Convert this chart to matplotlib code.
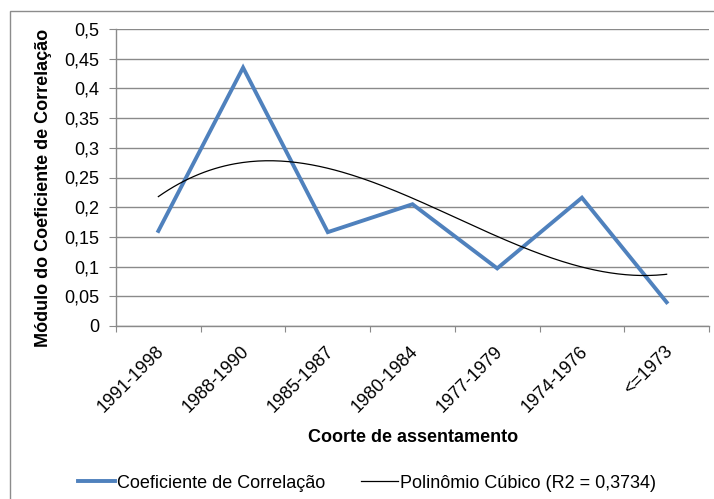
import numpy as np
import matplotlib
matplotlib.use("Agg")
import matplotlib.pyplot as plt
from matplotlib.patches import Rectangle
from matplotlib.transforms import ScaledTranslation

plt.rcParams['font.family'] = ['Liberation Sans', 'DejaVu Sans']

categories = ["1991-1998", "1988-1990", "1985-1987", "1980-1984", "1977-1979", "1974-1976", "<=1973"]
values = [0.160, 0.435, 0.158, 0.205, 0.097, 0.216, 0.040]
yticks = [0, 0.05, 0.1, 0.15, 0.2, 0.25, 0.3, 0.35, 0.4, 0.45, 0.5]
ytick_labels = ["0", "0,05", "0,1", "0,15", "0,2", "0,25", "0,3", "0,35", "0,4", "0,45", "0,5"]

W, H = 714, 499
fig = plt.figure(figsize=(W / 100, H / 100), dpi=100)
fig.patch.set_facecolor('white')

# outer chart frame
fig.patches.append(Rectangle((10 / W, -0.1), 1.2, (H - 11) / H + 0.1, transform=fig.transFigure,
                             fill=False, edgecolor='#8c8c8c', linewidth=1.0))

left, right, top, bottom = 116, 709, 29, 326
ax = fig.add_axes([left / W, 1 - bottom / H, (right - left) / W, (bottom - top) / H])

x = np.arange(1, len(categories) + 1)
ax.plot(x, values, color='#4F81BD', linewidth=2.8, solid_joinstyle='miter',
        label='Coeficiente de Correlação', zorder=3)

coef = np.polyfit(x, values, 3)
xs = np.linspace(1, len(categories), 200)
ax.plot(xs, np.polyval(coef, xs), color='black', linewidth=0.9,
        label='Polinômio Cúbico (R2 = 0,3734)', zorder=4)

ax.set_xlim(0.5, len(categories) + 0.5)
ax.set_ylim(0, 0.5)
ax.set_yticks(yticks)
ax.set_yticklabels(ytick_labels, fontsize=13)
ax.yaxis.grid(True, color='#8a8a8a', linewidth=1.0)
ax.set_axisbelow(True)

ax.set_xticks(np.arange(0.5, len(categories) + 1, 1))
ax.set_xticklabels([])
ax.set_xticks(x, minor=True)
ax.set_xticklabels(categories, minor=True, rotation=45, ha='right', va='top',
                   rotation_mode='anchor', fontsize=13)
ax.tick_params(axis='x', which='minor', length=0, pad=12)
ax.tick_params(axis='x', which='major', length=4, color='#8a8a8a', direction='out')
ax.tick_params(axis='y', length=5, color='#8a8a8a', direction='out', pad=7)
off = ScaledTranslation(-3 / 100, 0, fig.dpi_scale_trans)
for lab in ax.get_xticklabels(minor=True):
    lab.set_transform(lab.get_transform() + off)

for s in ['top', 'right']:
    ax.spines[s].set_visible(False)
for s in ['left', 'bottom']:
    ax.spines[s].set_color('#8a8a8a')
    ax.spines[s].set_linewidth(1.0)

fig.text(413 / W, 1 - 437 / H, 'Coorte de assentamento', ha='center', va='center',
         fontsize=13, fontweight='bold')
fig.text(44 / W, 1 - 188 / H, 'Módulo do Coeficiente de Correlação', ha='center', va='center',
         rotation=90, fontsize=13, fontweight='bold')

leg = fig.legend(loc='center left', bbox_to_anchor=(78 / W, 1 - 483 / H), ncol=2, frameon=False,
                 fontsize=13, handlelength=2.05, handletextpad=0.12, columnspacing=1.95,
                 borderpad=0, borderaxespad=0)

fig.savefig('out.png', dpi=100)
